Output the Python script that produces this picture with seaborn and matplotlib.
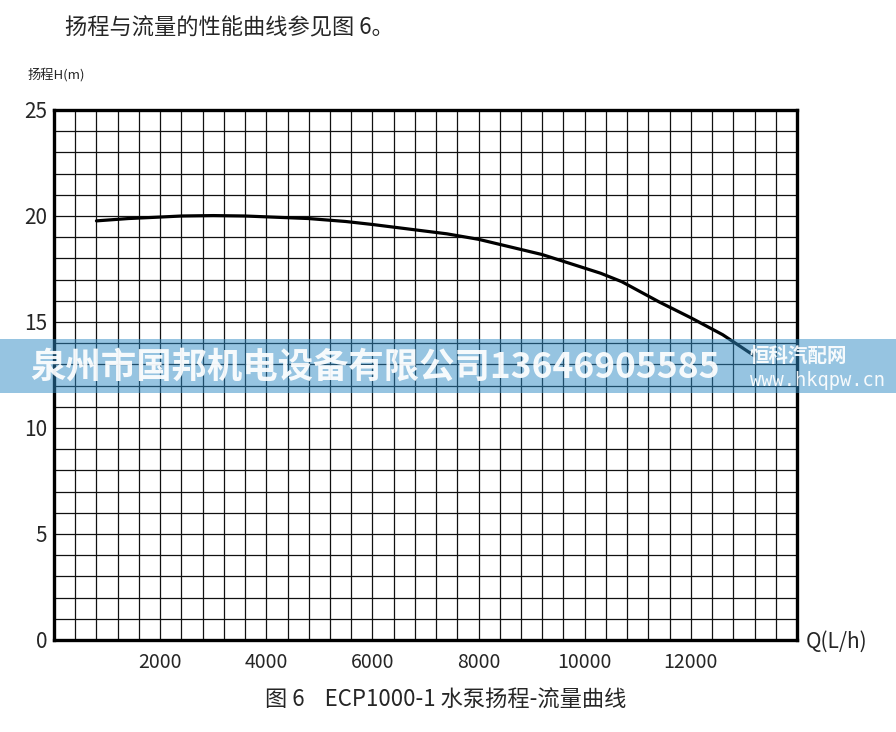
import numpy as np
import pandas as pd
import seaborn as sns
import matplotlib.pyplot as plt
from matplotlib.patches import Rectangle

# flow (L/h) and head (m)
flow = [800, 1400, 2000, 2400, 3000, 3600, 4400, 4800, 5500, 6000,
        7400, 8000, 9200, 9900, 10300, 10700, 11400, 12000, 12600, 13200]
head = [19.77, 19.88, 19.95, 20.0, 20.02, 20.0, 19.92, 19.88, 19.74, 19.6,
        19.16, 18.9, 18.18, 17.62, 17.3, 16.9, 15.95, 15.2, 14.4, 13.4]

x_labels = [2000, 4000, 6000, 8000, 10000, 12000]
y_labels = [0, 5, 10, 15, 20, 25]

df = pd.DataFrame({"Q": flow, "H": head})

sns.set_style("white")
cjk = ["Noto Sans CJK SC", "DejaVu Sans"]
plt.rcParams["font.family"] = cjk

fig = plt.figure(figsize=(8.96, 7.32), dpi=100)
ax = fig.add_axes([54 / 896, 92 / 732, 743 / 896, 530 / 732])

sns.lineplot(data=df, x="Q", y="H", ax=ax, color="black", lw=2.3, zorder=5)

ax.set_xlim(0, 14000)
ax.set_ylim(0, 25)
ax.set_xticks(np.arange(0, 14001, 400), minor=True)
ax.set_yticks(np.arange(0, 26, 1), minor=True)
ax.set_xticks(x_labels)
ax.set_yticks(y_labels)
ax.set_xticklabels([str(v) for v in x_labels], fontsize=14, weight="light")
ax.set_yticklabels([str(v) for v in y_labels], fontsize=15, weight="light")
ax.tick_params(which="both", length=0)
ax.tick_params(axis="x", pad=9)
ax.tick_params(axis="y", pad=5)
ax.grid(which="both", color="#111111", lw=0.9)
ax.set_axisbelow(True)
for s in ax.spines.values():
    s.set_color("black")
    s.set_linewidth(2.4)
ax.set_xlabel("")
ax.set_ylabel("")

fig.text(65 / 896, 1 - 28 / 732, "扬程与流量的性能曲线参见图 6。", fontsize=16,
         weight="light", va="center", ha="left")
fig.text(28 / 896, 1 - 75 / 732, "扬程H(m)", fontsize=9.5, va="center", ha="left")
fig.text(806 / 896, 1 - 642 / 732, "Q(L/h)", fontsize=15, weight="light",
         va="center", ha="left")
fig.text(265 / 896, 1 - 700 / 732, "图 6    ECP1000-1 水泵扬程-流量曲线", fontsize=16,
         weight="light", va="center", ha="left")

# watermark band
fig.add_artist(Rectangle((0, 1 - 393 / 732), 1, 54 / 732, transform=fig.transFigure,
                         facecolor=(0.18, 0.54, 0.77), alpha=0.5, lw=0, zorder=10))
fig.text(30 / 896, 1 - 367 / 732, "泉州市国邦机电设备有限公司13646905585",
         fontsize=25.5, weight="bold", color="white", alpha=0.92, va="center",
         ha="left", zorder=11)
fig.text(750 / 896, 1 - 356 / 732, "恒科汽配网", fontsize=14, weight="bold",
         color="white", alpha=0.92, va="center", ha="left", zorder=11)
fig.text(750 / 896, 1 - 380 / 732, "www.hkqpw.cn", family=["DejaVu Sans Mono"],
         fontsize=13.5, color="white", alpha=0.92, va="center", ha="left", zorder=11)

fig.savefig("out.png", dpi=100)
